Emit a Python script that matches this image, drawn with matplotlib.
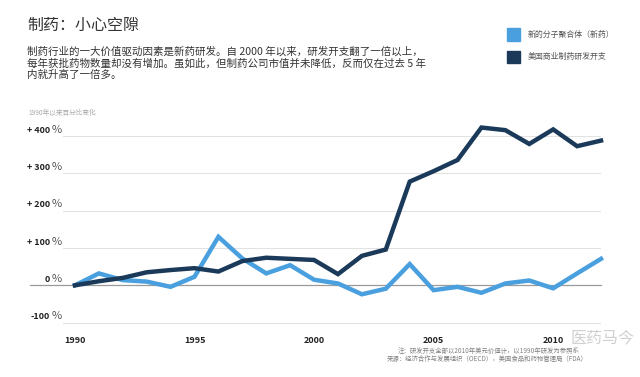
import matplotlib
matplotlib.use("Agg")
import matplotlib.pyplot as plt

plt.rcParams['font.family'] = ['Noto Sans CJK SC', 'DejaVu Sans']

years = list(range(1990, 2013))
# 新的分子聚合体（新药）, % change since 1990
nme = [0, 32, 14, 10, -4, 23, 130, 72, 32, 54, 15, 5, -24, -9, 57, -13, -4, -20, 5, 13, -8, 32, 71]
# 美国商业制药研发开支, % change since 1990
rd = [0, 11, 20, 35, 41, 46, 37, 65, 74, 71, 68, 30, 79, 96, 278, 306, 336, 423, 416, 379, 418, 373, 388]

y_ticks = [400, 300, 200, 100, 0, -100]
y_labels = ["+ 400", "+ 300", "+ 200", "+ 100", "0", "-100"]
x_ticks = [1990, 1995, 2000, 2005, 2010]

light = "#4aa0df"
dark = "#1b3a5a"

W, H = 640, 377


def fx(x):
    return x / W


def fy(y):
    return 1 - y / H


fig = plt.figure(figsize=(6.4, 3.77), dpi=100)
fig.patch.set_facecolor("white")

# axes placed so that 0% sits at y=285px and 1990..2012 spans 75..601px
ax = fig.add_axes([fx(63), fy(330.1), fx(601) - fx(63), (330.1 - 121.2) / H])
ax.set_xlim(1989.5, 2012.0)
ax.set_ylim(-120, 440)

for v in y_ticks:
    if v == 0:
        ax.axhline(0, xmin=(30 - 63) / 538, xmax=1, color="#9a9a9a", lw=0.9, clip_on=False, zorder=1)
    else:
        ax.axhline(v, color="#e2e2e2", lw=0.8, zorder=1)

ax.plot(years, nme, color=light, lw=3.2, solid_joinstyle="miter", zorder=3, clip_on=False)
ax.plot(years, rd, color=dark, lw=3.2, solid_joinstyle="miter", zorder=4, clip_on=False)

for v, lab in zip(y_ticks, y_labels):
    ax.annotate(lab, xy=(fx(50), v), xycoords=("figure fraction", "data"),
                xytext=(0, 1), textcoords="offset points",
                ha="right", va="bottom", fontsize=6.5, fontweight="bold", color="#222222")
    ax.annotate("%", xy=(fx(52), v), xycoords=("figure fraction", "data"),
                xytext=(0, 1), textcoords="offset points",
                ha="left", va="bottom", fontsize=8, color="#555555")

ax.set_xticks(x_ticks)
ax.set_xticklabels([str(t) for t in x_ticks], fontsize=6.5, fontweight="bold", color="#222222")
ax.tick_params(axis="x", length=0, pad=4)
ax.set_yticks([])
for s in ax.spines.values():
    s.set_visible(False)
ax.set_facecolor("none")

# title and text
fig.text(fx(27), fy(25.5), "制药：小心空隙", fontsize=11.5, color="#333333", va="center", ha="left")
sub = ["制药行业的一大价值驱动因素是新药研发。自 2000 年以来，研发开支翻了一倍以上，",
       "每年获批药物数量却没有增加。虽如此，但制药公司市值并未降低，反而仅在过去 5 年",
       "内就升高了一倍多。"]
for i, line in enumerate(sub):
    fig.text(fx(27), fy(52 + 11.5 * i), line, fontsize=7.55, color="#333333", va="center", ha="left")

fig.text(fx(28), fy(113), "1990年以来百分比变化", fontsize=4.8, color="#aaaaaa", va="center", ha="left")

# legend
legend_items = [("新的分子聚合体（新药）", light), ("美国商业制药研发开支", dark)]
for i, (lab, col) in enumerate(legend_items):
    yc = 34.5 + 22.3 * i
    fig.patches.append(plt.Rectangle((fx(507), fy(yc + 6)), fx(13), 12 / H,
                                     transform=fig.transFigure, color=col, figure=fig))
    fig.text(fx(528), fy(yc), lab, fontsize=5.7, color="#555555", va="center", ha="left")

# watermark
fig.text(fx(571), fy(337.5), "医药马今", fontsize=11.5, color="#d0d0d0", va="center", ha="left", zorder=0)

# notes
fig.text(fx(398), fy(350.5), "注：研发开支全部以2010年美元价值计，以1990年研发为参照系",
         fontsize=4.6, color="#808080", va="center", ha="left")
fig.text(fx(387), fy(358.5), "来源：经济合作与发展组织（OECD），美国食品和药物管理局（FDA）",
         fontsize=4.6, color="#808080", va="center", ha="left")

fig.savefig("out.png", dpi=100, facecolor="white")
